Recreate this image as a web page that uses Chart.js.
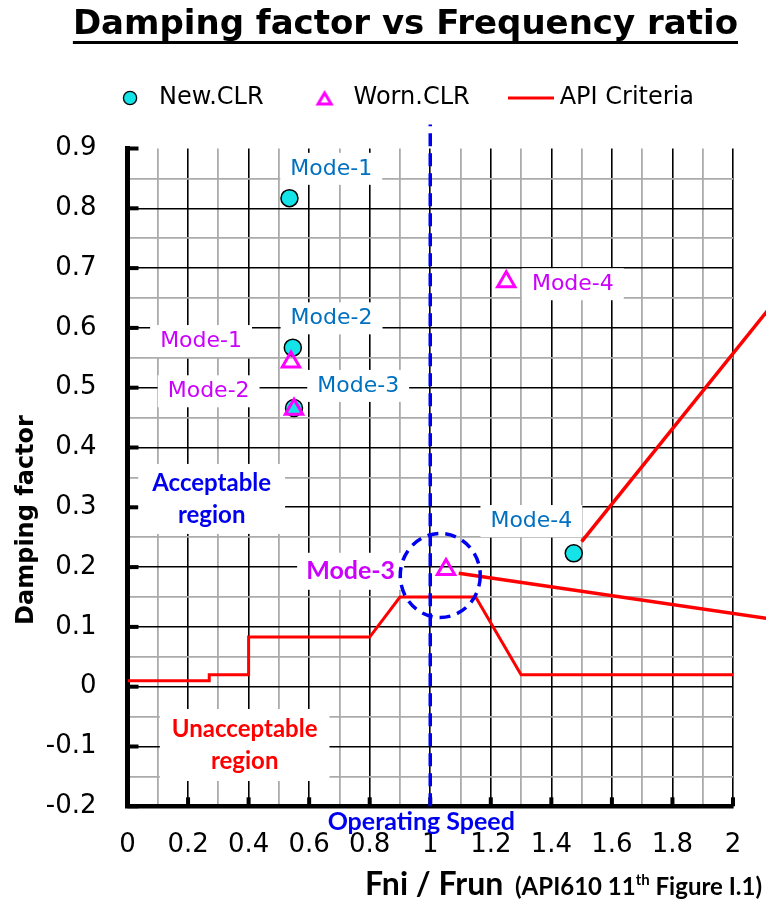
<!DOCTYPE html>
<html>
<head>
<meta charset="utf-8">
<script src="https://cdn.jsdelivr.net/npm/chart.js@4.4.1/dist/chart.umd.min.js"></script>
<style>
html,body{margin:0;padding:0;background:#ffffff;}
#wrap{width:766px;height:901px;position:relative;}
</style>
</head>
<body>
<div id="wrap"><canvas id="c" width="766" height="901"></canvas></div>
<script>
// ---------------- data ----------------
const modeNames   = ['Mode-1', 'Mode-2', 'Mode-3', 'Mode-4'];
const newClrX     = [0.535, 0.546, 0.550, 1.474];
const newClrY     = [0.817, 0.567, 0.466, 0.223];
const wornClrX    = [0.540, 0.550, 1.052, 1.251];
const wornClrY    = [0.543, 0.464, 0.196, 0.677];
const apiX        = [0, 0.27, 0.27, 0.4, 0.4, 0.8, 0.9, 1.15, 1.3, 2.0];
const apiY        = [0.01, 0.01, 0.02, 0.02, 0.083, 0.083, 0.15, 0.15, 0.02, 0.02];
const leaderAX    = [1.50, 2.20];
const leaderAY    = [0.2425, 0.683];
const leaderBX    = [1.094, 2.20];
const leaderBY    = [0.1896, 0.1078];
const operatingSpeed = 1.0;
const operatingLineY = [-0.2, 0.94];
const operatingZone  = [1.033, 0.186];
const xTickLabels = ['0','0.2','0.4','0.6','0.8','1','1.2','1.4','1.6','1.8','2'];
const yTickLabels = ['-0.2','-0.1','0','0.1','0.2','0.3','0.4','0.5','0.6','0.7','0.8','0.9'];

// text annotations (data coordinates of label centres)
const annotations = [
  {text: 'Mode-1', x: 0.673, y: 0.866, kind: 'newMode'},
  {text: 'Mode-2', x: 0.674, y: 0.616, kind: 'newMode'},
  {text: 'Mode-3', x: 0.762, y: 0.503, kind: 'newMode'},
  {text: 'Mode-4', x: 1.334, y: 0.277, kind: 'newMode'},
  {text: 'Mode-1', x: 0.243, y: 0.578, kind: 'wornMode'},
  {text: 'Mode-2', x: 0.268, y: 0.494, kind: 'wornMode'},
  {text: 'Mode-4', x: 1.471, y: 0.673, kind: 'wornMode'},
  {text: 'Mode-3', x: 0.737, y: 0.193, kind: 'wornBold'},
  {text: 'Acceptable\nregion', x: 0.278, y: 0.314, kind: 'accept'},
  {text: 'Unacceptable\nregion', x: 0.387, y: -0.0975, kind: 'unaccept'}
];

// ---------------- styles ----------------
const NEW_COLOR = '#14E4E8';
const WORN_COLOR = '#FF00FF';
const API_COLOR = '#FF0000';
const OP_COLOR = '#0000F0';
const labelStyles = {
  newMode:  {font: '22px "DejaVu Sans"', color: '#0070C0', lineH: 26, padX: 10, padY: 3},
  wornMode: {font: '22px "DejaVu Sans"', color: '#CC00FF', lineH: 26, padX: 10, padY: 3},
  wornBold: {font: 'bold 25px Lato', color: '#CC00FF', lineH: 31, padX: 9, padY: 3},
  accept:   {font: 'bold 24px Lato', color: '#0000EE', lineH: 32, padX: 14, padY: 3},
  unaccept: {font: 'bold 24px Lato', color: '#FF0000', lineH: 32, padX: 12, padY: 4}
};

const pts = (xs, ys) => xs.map((v, i) => ({x: v, y: ys[i]}));

const mkCanvas = (w, h, draw) => { const c = document.createElement('canvas'); c.width = w; c.height = h; draw(c.getContext('2d')); return c; };
const legendCircle = mkCanvas(18, 18, g => { g.beginPath(); g.arc(9, 9, 6.6, 0, Math.PI * 2); g.fillStyle = NEW_COLOR; g.fill(); g.lineWidth = 1.3; g.strokeStyle = '#000'; g.stroke(); });
const legendTri = mkCanvas(20, 18, g => { g.beginPath(); g.moveTo(10, 4); g.lineTo(16.5, 15); g.lineTo(3.5, 15); g.closePath(); g.lineWidth = 3; g.strokeStyle = WORN_COLOR; g.stroke(); });
const legendLine = mkCanvas(46, 6, g => { g.fillStyle = API_COLOR; g.fillRect(0, 1.5, 46, 3); });

const isMajorX = v => Math.round(v * 10) % 2 === 0;
const isMajorY = v => Math.abs(Math.round(v * 20)) % 2 === 0;

const decor = {
  id: 'decor',
  beforeDatasetsDraw(chart) {
    const {ctx, chartArea: a, scales: {x, y}} = chart;
    ctx.save();
    ctx.fillStyle = '#000';
    y.ticks.forEach(t => { if (isMajorY(t.value)) { const p = y.getPixelForValue(t.value); ctx.fillRect(a.left, p - 2, 11, 4); } });
    x.ticks.forEach(t => { if (isMajorX(t.value)) { const p = x.getPixelForValue(t.value); ctx.fillRect(p - 2, a.bottom - 9, 4, 9); } });
    annotations.forEach(an => {
      const st = labelStyles[an.kind];
      const lines = an.text.split('\n');
      ctx.font = st.font;
      const w = Math.max(...lines.map(l => ctx.measureText(l).width));
      const cx = x.getPixelForValue(an.x), cy = y.getPixelForValue(an.y);
      const h = lines.length * st.lineH + 2 * st.padY;
      ctx.fillStyle = '#fff';
      ctx.fillRect(cx - w / 2 - st.padX, cy - h / 2, w + 2 * st.padX, h);
      ctx.fillStyle = st.color;
      ctx.textAlign = 'center';
      ctx.textBaseline = 'middle';
      lines.forEach((l, i) => ctx.fillText(l, cx, cy - h / 2 + st.padY + st.lineH * (i + 0.5)));
    });
    ctx.restore();
  },
  afterDatasetsDraw(chart) {
    const {ctx, scales: {x, y}} = chart;
    ctx.save();
    ctx.beginPath();
    ctx.ellipse(x.getPixelForValue(operatingZone[0]), y.getPixelForValue(operatingZone[1]), 40, 42, 0, 0, Math.PI * 2);
    ctx.setLineDash([11, 7]);
    ctx.lineWidth = 3.5;
    ctx.strokeStyle = OP_COLOR;
    ctx.stroke();
    ctx.restore();
  },
  afterDraw(chart) {
    const {ctx, chartArea: a, scales: {x}} = chart;
    ctx.save();
    // title underline
    const tb = chart.titleBlock;
    ctx.font = 'bold 34px "DejaVu Sans"';
    const tw = ctx.measureText(chart.options.plugins.title.text).width;
    ctx.fillStyle = '#000';
    ctx.fillRect(tb.right - tw, 41, tw, 3);
    // operating speed text
    ctx.font = 'bold 25px Lato';
    ctx.fillStyle = OP_COLOR;
    ctx.textAlign = 'center';
    ctx.textBaseline = 'middle';
    ctx.fillText('Operating Speed', x.getPixelForValue(operatingSpeed) - 9, a.bottom + 16);
    // y axis title
    ctx.save();
    ctx.translate(27, 520);
    ctx.rotate(-Math.PI / 2);
    ctx.font = 'bold 24px "DejaVu Sans"';
    ctx.fillStyle = '#000';
    ctx.fillText('Damping factor', 0, 0);
    ctx.restore();
    // x axis title
    const parts = [
      {t: 'Fni / Frun', f: 'bold 32px Lato', dy: 0},
      {t: '  (API610 11', f: 'bold 24px Lato', dy: 0},
      {t: 'th', f: 'bold 15px Lato', dy: -10},
      {t: ' Figure I.1)', f: 'bold 24px Lato', dy: 0}
    ];
    let total = 0;
    parts.forEach(p => { ctx.font = p.f; p.w = ctx.measureText(p.t).width; total += p.w; });
    let cx = 762 - total;
    ctx.textAlign = 'left';
    ctx.textBaseline = 'alphabetic';
    ctx.fillStyle = '#000';
    parts.forEach(p => { ctx.font = p.f; ctx.fillText(p.t, cx, 895 + p.dy); cx += p.w; });
    ctx.restore();
  }
};

new Chart(document.getElementById('c'), {
  type: 'scatter',
  data: {
    datasets: [
      {label: 'New.CLR', data: pts(newClrX, newClrY), pointStyle: 'circle', pointRadius: 8.5, pointHoverRadius: 8.5,
       borderWidth: 1.5, borderColor: '#000', backgroundColor: NEW_COLOR, order: 1},
      {label: 'Worn.CLR', data: pts(wornClrX, wornClrY), pointStyle: 'triangle', pointRadius: 10, pointHoverRadius: 10,
       borderWidth: 3, borderColor: WORN_COLOR, backgroundColor: 'rgba(0,0,0,0)', order: 0},
      {label: 'API Criteria', data: pts(apiX, apiY), showLine: true, pointRadius: 0, borderColor: API_COLOR,
       borderWidth: 3, tension: 0, order: 4},
      {label: 'leaderA', data: pts(leaderAX, leaderAY), showLine: true, pointRadius: 0, borderColor: API_COLOR,
       borderWidth: 3.5, clip: false, order: 4},
      {label: 'leaderB', data: pts(leaderBX, leaderBY), showLine: true, pointRadius: 0, borderColor: API_COLOR,
       borderWidth: 3.5, clip: false, order: 4},
      {label: 'Operating Speed', data: operatingLineY.map(v => ({x: operatingSpeed, y: v})), showLine: true, pointRadius: 0,
       borderColor: OP_COLOR, borderWidth: 3.5, borderDash: [13, 7], clip: false, order: 3}
    ]
  },
  options: {
    responsive: false,
    animation: false,
    devicePixelRatio: 1,
    layout: {padding: {left: 0, right: 28, top: 0, bottom: 0}},
    plugins: {
      tooltip: {enabled: false},
      title: {display: true, text: 'Damping factor vs Frequency ratio', align: 'end', color: '#000',
              font: {family: 'DejaVu Sans', size: 34, weight: 'bold', lineHeight: 1}, padding: {top: 8, bottom: 0}},
      legend: {
        display: true, position: 'top', align: 'end',
        labels: {
          font: {family: 'DejaVu Sans', size: 24}, color: '#000', usePointStyle: true, pointStyleWidth: 34, padding: 44,
          generateLabels: () => [
            {text: 'New.CLR', pointStyle: legendCircle, fillStyle: 'rgba(0,0,0,0)', strokeStyle: 'rgba(0,0,0,0)', lineWidth: 0, hidden: false, datasetIndex: 0, fontColor: '#000'},
            {text: 'Worn.CLR', pointStyle: legendTri, fillStyle: 'rgba(0,0,0,0)', strokeStyle: 'rgba(0,0,0,0)', lineWidth: 0, hidden: false, datasetIndex: 1, fontColor: '#000'},
            {text: 'API Criteria', pointStyle: legendLine, fillStyle: 'rgba(0,0,0,0)', strokeStyle: 'rgba(0,0,0,0)', lineWidth: 0, hidden: false, datasetIndex: 2, fontColor: '#000'}
          ]
        }
      }
    },
    scales: {
      x: {
        type: 'linear', position: 'bottom', min: 0, max: 2,
        afterFit: s => { s.height = 94.7; },
        border: {display: true, color: '#000', width: 4.5},
        grid: {drawTicks: false,
               color: c => (c.tick && !isMajorX(c.tick.value)) ? '#ababab' : '#000',
               lineWidth: c => (c.tick && !isMajorX(c.tick.value)) ? 1.8 : 1.6},
        ticks: {stepSize: 0.1, autoSkip: false, maxRotation: 0, padding: 23, color: '#000',
                font: {family: 'DejaVu Sans', size: 26},
                callback: v => { const k = Math.round(v * 10); return k % 2 === 0 ? xTickLabels[k / 2] : ''; }}
      },
      y: {
        type: 'linear', position: 'left', min: -0.2, max: 0.9,
        afterFit: s => { s.width = 127.5; },
        border: {display: true, color: '#000', width: 5},
        grid: {drawTicks: false,
               color: c => { if (!c.tick) return '#000'; if (Math.round(c.tick.value * 20) === 18) return 'rgba(0,0,0,0)'; return isMajorY(c.tick.value) ? '#000' : '#ababab'; },
               lineWidth: c => (c.tick && !isMajorY(c.tick.value)) ? 1.8 : 1.6},
        ticks: {stepSize: 0.05, autoSkip: false, padding: 31, color: '#000',
                font: {family: 'DejaVu Sans', size: 26},
                callback: v => { const k = Math.round(v * 20); return k % 2 === 0 ? yTickLabels[(k + 4) / 2] : ''; }}
      },
      x2: {
        type: 'linear', position: 'top', min: 0, max: 1, display: true,
        afterFit: s => { s.height = 28.5; },
        border: {display: false}, grid: {display: false, drawTicks: false}, ticks: {display: false}
      },
      y2: {
        type: 'linear', position: 'right', min: 0, max: 1, display: true,
        afterFit: s => { s.width = 5; },
        border: {display: false}, grid: {display: false, drawTicks: false}, ticks: {display: false}
      }
    }
  },
  plugins: [decor]
});
</script>
</body>
</html>
